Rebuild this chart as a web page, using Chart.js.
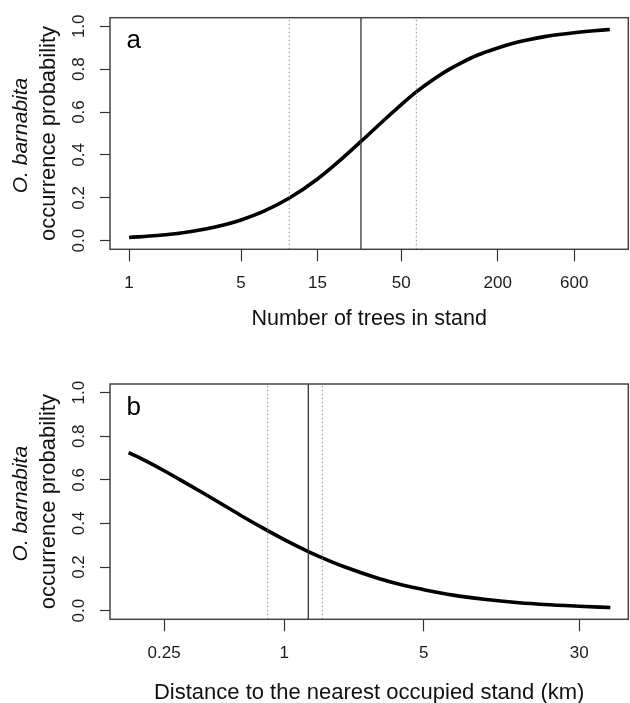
<!DOCTYPE html>
<html><head><meta charset="utf-8">
<script src="https://cdn.jsdelivr.net/npm/chart.js@4.4.1/dist/chart.umd.min.js"></script>
<style>
html,body{margin:0;padding:0;background:#fff;}
#wrap{position:relative;width:630px;height:703px;overflow:hidden;background:#fff;}
canvas{position:absolute;left:0;}
</style></head><body>
<div id="wrap">
<canvas id="ca" width="630" height="330" style="top:0px"></canvas>
<canvas id="cb" width="630" height="373" style="top:330px"></canvas>
</div>
<script>
// ---- data ----
const treesX = [1, 1.5, 2, 3, 4, 5, 7, 10, 15, 20, 28, 40, 50, 62, 80, 100, 120, 150, 200, 250, 300, 400, 500, 600, 800, 1000];
const treesP = [0.015, 0.024, 0.034, 0.055, 0.076, 0.097, 0.139, 0.199, 0.288, 0.365, 0.463, 0.570, 0.635, 0.694, 0.754, 0.800, 0.832, 0.866, 0.899, 0.921, 0.935, 0.953, 0.963, 0.970, 0.979, 0.985];
const treesCI = [10, 28, 62];          // lower, estimate, upper
const distX = [0.166, 0.2, 0.25, 0.3, 0.4, 0.5, 0.6, 0.8, 1, 1.32, 1.5, 2, 3, 4, 5, 7, 10, 15, 20, 30, 43];
const distP = [0.725, 0.689, 0.642, 0.601, 0.535, 0.482, 0.439, 0.374, 0.326, 0.271, 0.248, 0.201, 0.146, 0.115, 0.096, 0.071, 0.052, 0.036, 0.028, 0.020, 0.014];
const distCI = [0.826, 1.32, 1.55];    // lower, estimate, upper
const treesTicks = [1, 5, 15, 50, 200, 600];
const treesTickLabels = ['1', '5', '15', '50', '200', '600'];
const distTicks = [0.25, 1, 5, 30];
const distTickLabels = ['0.25', '1', '5', '30'];
const probTicks = [0, 0.2, 0.4, 0.6, 0.8, 1.0];
const probTickLabels = ['0.0', '0.2', '0.4', '0.6', '0.8', '1.0'];
const panelLetters = ['a', 'b'];
const xTitles = ['Number of trees in stand', 'Distance to the nearest occupied stand (km)'];
const yTitleSpecies = 'O. barnabita';
const yTitleRest = 'occurrence probability';

const FAM = '"Liberation Sans", Arial, Helvetica, sans-serif';
Chart.defaults.font.family = FAM;

const decor = {
  id: 'decor',
  afterDraw(chart, args, opts) {
    const {ctx, chartArea: a} = chart;
    ctx.save();
    ctx.strokeStyle = '#444';
    ctx.lineWidth = 1.5;
    ctx.strokeRect(a.left, a.top, a.right - a.left, a.bottom - a.top);
    ctx.fillStyle = '#000';
    ctx.font = '26px ' + FAM;
    ctx.textAlign = 'left';
    ctx.textBaseline = 'alphabetic';
    ctx.fillText(opts.letter, a.left + 16.5, a.top + 30.5);
    ctx.fillStyle = '#111';
    ctx.font = 'italic 21px ' + FAM;
    ctx.translate(20.7, (a.top + a.bottom) / 2 + 2);
    ctx.rotate(-Math.PI / 2);
    ctx.textAlign = 'center';
    ctx.textBaseline = 'middle';
    ctx.fillText(yTitleSpecies, 0, 0);
    ctx.restore();
  }
};

const Y_MIN = -0.04, Y_MAX = 1.04;

function vline(x, dotted) {
  return {
    data: [{x: x, y: Y_MIN}, {x: x, y: Y_MAX}],
    borderColor: dotted ? '#8a8a8a' : '#333',
    borderWidth: dotted ? 1 : 1.3,
    borderDash: dotted ? [1.5, 2.5] : [],
    pointRadius: 0,
    fill: false
  };
}

function buildPanel(id, cfg) {
  return new Chart(document.getElementById(id), {
    type: 'line',
    data: {
      datasets: [
        vline(cfg.ci[0], true),
        vline(cfg.ci[2], true),
        vline(cfg.ci[1], false),
        {
          data: cfg.x.map((v, i) => ({x: v, y: cfg.p[i]})),
          borderColor: '#000',
          borderWidth: 3.6,
          pointRadius: 0,
          cubicInterpolationMode: 'monotone',
          fill: false
        }
      ]
    },
    options: {
      responsive: false,
      animation: false,
      devicePixelRatio: 1,
      layout: {padding: {top: cfg.padTop, right: 1.7, left: 0, bottom: 0}},
      plugins: {
        legend: {display: false},
        tooltip: {enabled: false},
        decor: {letter: cfg.letter}
      },
      scales: {
        x: {
          type: 'logarithmic',
          position: 'bottom',
          min: cfg.xMin,
          max: cfg.xMax,
          afterBuildTicks: s => { s.ticks = cfg.ticks.map(v => ({value: v})); },
          afterFit: s => { s.height = cfg.xAxisH; },
          grid: {drawOnChartArea: false, drawTicks: true, tickLength: 12, color: '#333', tickColor: '#333', tickWidth: 1.2},
          border: {display: false},
          ticks: {
            autoSkip: false, maxRotation: 0, minRotation: 0, padding: 14,
            color: '#1a1a1a', font: {size: 17, lineHeight: 1},
            callback: (v, i) => cfg.tickLabels[i]
          },
          title: {
            display: true, text: cfg.xTitle, color: '#111',
            font: {size: cfg.titleSize, lineHeight: 1},
            padding: {top: 0, bottom: cfg.titlePad}
          }
        },
        y: {
          type: 'linear',
          min: Y_MIN,
          max: Y_MAX,
          afterBuildTicks: s => { s.ticks = probTicks.map(v => ({value: v})); },
          afterFit: s => { s.width = 110; },
          grid: {drawOnChartArea: false, drawTicks: true, tickLength: 10, color: '#333', tickColor: '#333', tickWidth: 1.2},
          border: {display: false},
          ticks: {
            autoSkip: false, minRotation: 90, maxRotation: 90, crossAlign: 'center', padding: 9.2,
            color: '#1a1a1a', font: {size: 17, lineHeight: 1},
            callback: (v, i) => probTickLabels[i]
          },
          title: {
            display: true, text: yTitleRest, color: '#111',
            font: {size: 22, lineHeight: 1},
            padding: {top: 38, bottom: 0}
          }
        }
      }
    },
    plugins: [decor]
  });
}

buildPanel('ca', {
  x: treesX, p: treesP, ci: treesCI, ticks: treesTicks, tickLabels: treesTickLabels,
  xMin: 0.76, xMax: 1305, padTop: 15, xAxisH: 80.7, xTitle: xTitles[0], titleSize: 21.5, titlePad: 0,
  letter: panelLetters[0]
});
buildPanel('cb', {
  x: distX, p: distP, ci: distCI, ticks: distTicks, tickLabels: distTickLabels,
  xMin: 0.134, xMax: 52.9, padTop: 54, xAxisH: 83.7, xTitle: xTitles[1], titleSize: 22, titlePad: -1,
  letter: panelLetters[1]
});
</script>
</body></html>
